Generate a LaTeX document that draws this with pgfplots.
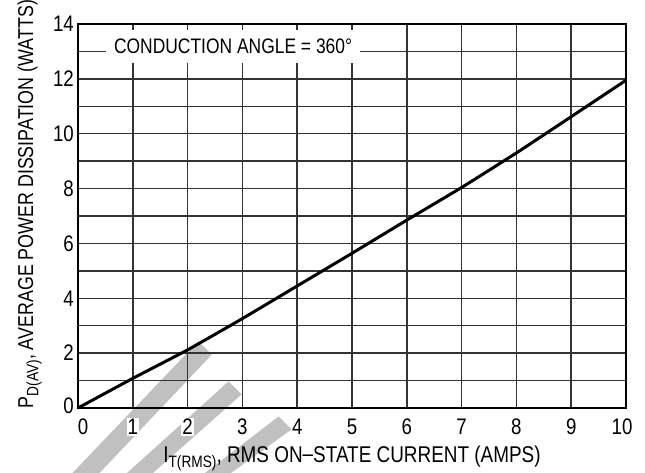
\documentclass[border=0pt]{standalone}
\usepackage{pgfplots}
\pgfplotsset{compat=1.18}
\usepackage{fontspec}
\setmainfont[FakeStretch=0.83]{Liberation Sans}
\definecolor{wm}{RGB}{192,192,192}
\begin{document}
\begin{tikzpicture}
% watermark (behind the axis)
\fill[wm] (120.3pt,66.7pt) -- (133.7pt,53.3pt) -- (21.5pt,-65pt) -- (-5.5pt,-65pt) -- cycle;
\fill[wm] (150.5pt,26.5pt) -- (163.5pt,13.5pt) -- (75pt,-65pt) -- (49pt,-65pt) -- cycle;
\fill[wm] (200.5pt,-8.5pt) -- (213.5pt,-21.5pt) -- (153pt,-65pt) -- (127pt,-65pt) -- cycle;
\begin{axis}[
  at={(0pt,0pt)}, anchor=south west,
  scale only axis, width=548pt, height=384pt,
  xmin=0, xmax=10, ymin=0, ymax=14,
  xtick={0,1,...,10}, ytick={0,2,...,14}, minor ytick={1,3,...,13},
  xticklabels={\hspace*{10pt}0,1,2,3,4,5,6,7,8,9,10\hspace*{8pt}},
  yticklabels={\raisebox{5pt}{0},2,4,6,8,10,12,14},
  grid=both,
  major grid style={black!80, line width=1.5pt},
  minor grid style={black!80, line width=1.5pt},
  axis line style={black, line width=2.4pt},
  major tick length=0pt, minor tick length=0pt,
  /pgf/number format/assume math mode=true,
  tick label style={font=\fontsize{22.5}{22.5}\selectfont, fill=white, inner sep=1pt},
  xticklabel style={yshift=-10pt},
  yticklabel style={xshift=-3pt},
  every axis x label/.style={at={(axis description cs:0.5,-0.1432)}, anchor=base, font=\fontsize{22.8}{22.8}\selectfont},
  every axis y label/.style={at={(axis description cs:-0.0821,0.531)}, rotate=90, anchor=base, font=\fontsize{21.5}{21.5}\selectfont},
  xlabel={I\raisebox{-0.2em}{\fontsize{16.5}{16.5}\selectfont T(RMS)}, RMS ON\raisebox{0.05em}{–}STATE CURRENT (AMPS)},
  ylabel={P\raisebox{-0.25em}{\fontsize{16.5}{16.5}\selectfont D(AV)}, AVERAGE POWER DISSIPATION (WATTS)},
  clip=false,
]
\addplot[black, line width=3pt, smooth, tension=0.3] coordinates {
  (0,0) (1,1.08) (2,2.12) (3,3.26) (4,4.45) (5,5.64) (6,6.85) (7,8.04) (8,9.3) (9,10.62) (10,11.95)
};
\node[fill=white, inner sep=0pt, minimum width=254pt, minimum height=33pt,
      font=\fontsize{21}{21}\selectfont] at (axis cs:2.83,13.19) {CONDUCTION ANGLE = 360°};
\end{axis}
\pgfresetboundingbox
\path[use as bounding box] (-78pt,-65pt) rectangle (567pt,408pt);
\end{tikzpicture}
\end{document}
